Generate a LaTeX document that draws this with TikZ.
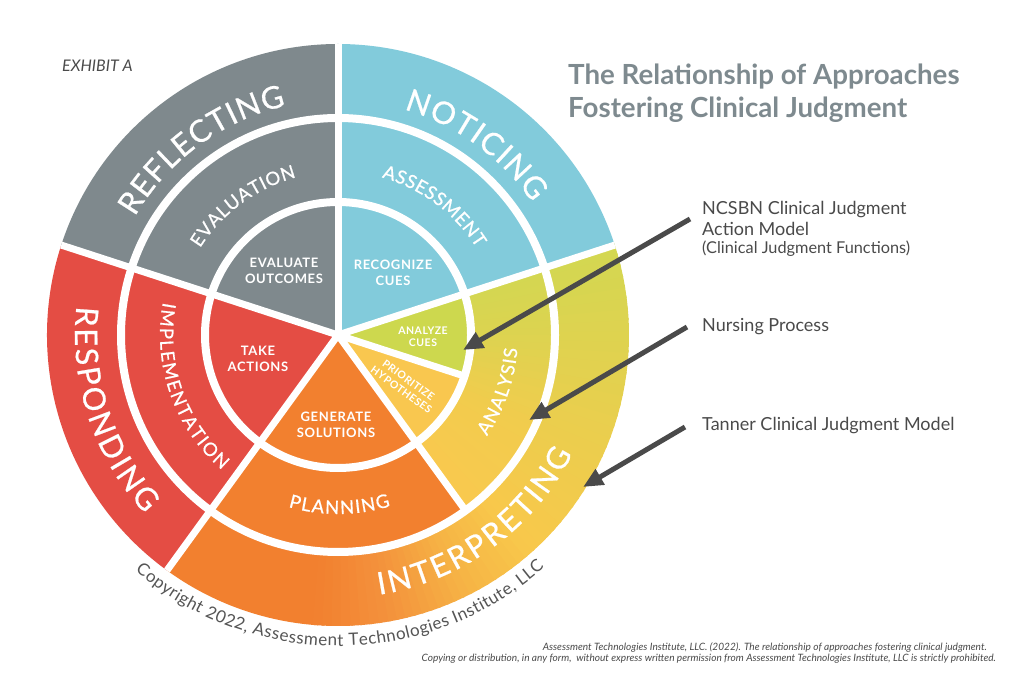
\documentclass[tikz,border=0pt]{standalone}
\usepackage{fontspec}
\setmainfont{Lato}
\newfontfamily\labfont[LetterSpace=5]{Lato}
\newfontfamily\ringfont[FakeBold=0.7]{Lato}
\usetikzlibrary{decorations.text,arrows.meta}
\definecolor{cgray}{HTML}{7F898D}
\definecolor{cblue}{HTML}{82CBDB}
\definecolor{cred}{HTML}{E44D44}
\definecolor{corange}{HTML}{F2802F}
\definecolor{cygreen}{HTML}{D3D751}
\definecolor{cacues}{HTML}{CDD84E}
\definecolor{cprio}{HTML}{F9C74F}
\definecolor{ia}{HTML}{F3913C}
\definecolor{ib}{HTML}{F6B445}
\definecolor{ic}{HTML}{F8C84B}
\definecolor{id}{HTML}{EDCD4D}
\definecolor{aa}{HTML}{F9C94E}
\definecolor{ab}{HTML}{F1CC4D}
\definecolor{ac}{HTML}{DDD350}
\definecolor{ctitle}{HTML}{7E8A8F}
\definecolor{clabel}{HTML}{4A4A4A}
\definecolor{ccopy}{HTML}{555555}
\definecolor{carrow}{HTML}{4A4A4A}

\newcommand\pieW[4]{\fill[#4] (0,0) -- (#2:#1pt) arc[start angle=#2,end angle=#3,radius=#1pt] -- cycle;}
\newcommand\annW[5]{\fill[#5] (#3:#1pt) arc[start angle=#3,end angle=#4,radius=#1pt] -- (#4:#2pt) arc[start angle=#4,end angle=#3,radius=#2pt] -- cycle;}
\newcommand\gradW[7]{\foreach \k in {1,...,#7}{%
  \pgfmathsetmacro\gsa{#3+(#4-#3)*(\k-1)/#7}%
  \pgfmathsetmacro\gea{#3+(#4-#3)*\k/#7+0.5}%
  \pgfmathsetmacro\gpc{100*(\k-0.5)/#7}%
  \annW{#1}{#2}{\gsa}{\gea}{#6!\gpc!#5}}}
\newcommand\arcT[5]{\path[decorate,decoration={text along path,text color=white,text align=fit to path,text={|#4|#5}}] (#2:#1pt) arc[start angle=#2,end angle=#3,radius=#1pt];}

\tikzset{
  sepline/.style={draw=white,line width=7pt},
  ringline/.style={draw=white,line width=8pt},
  inlab/.style={text=white,font=\labfont\bfseries\fontsize{13}{16}\selectfont,align=center,inner sep=0pt},
  smlab/.style={text=white,font=\labfont\bfseries\fontsize{10.5}{12}\selectfont,align=center,inner sep=0pt},
  sidelab/.style={text=clabel,font=\fontsize{18}{18}\selectfont,anchor=base west,inner sep=0pt},
  titlelab/.style={text=ctitle,font=\bfseries\fontsize{27.7}{28}\selectfont,anchor=base west,inner sep=0pt},
  citelab/.style={text=clabel,font=\itshape\fontsize{10.1}{10}\selectfont,anchor=base east,inner sep=0pt},
  ptr/.style={draw=carrow,line width=5pt,-{Triangle[length=20pt,width=17pt]}}
}

\begin{document}
\begin{tikzpicture}[x=1pt,y=1pt]
\useasboundingbox (0,0) rectangle (1024,691);
\fill[white] (0,0) rectangle (1024,691);

\begin{scope}[shift={(338,356)}]
  % base sectors
  \pieW{291}{18}{90}{cblue}
  \pieW{291}{90}{162}{cgray}
  \pieW{291}{162}{234}{cred}
  \pieW{217}{234}{306}{corange}
  % interpreting gradient ring
  \annW{217}{291}{234}{266}{corange}
  \gradW{217}{291}{265}{280}{corange}{ia}{8}
  \gradW{217}{291}{280}{297}{ia}{ib}{10}
  \gradW{217}{291}{297}{312}{ib}{ic}{8}
  \gradW{217}{291}{312}{335}{ic}{id}{12}
  \gradW{217}{291}{335}{378}{id}{cygreen}{20}
  % analysis gradient
  \gradW{133}{217}{306}{335}{aa}{ab}{14}
  \gradW{133}{217}{335}{360}{ab}{ac}{12}
  \gradW{133}{217}{360}{378}{ac}{cygreen}{9}
  % inner small wedges
  \pieW{133}{306}{342}{cprio}
  \pieW{133}{342}{378}{cacues}
  % white separators
  \draw[ringline] (0,0) circle[radius=133pt];
  \draw[ringline] (0,0) circle[radius=217pt];
  \foreach \a in {18,90,162,234} \draw[sepline] (0,0) -- (\a:291pt);
  \draw[sepline] (0,0) -- (306:217pt);
  \draw[sepline] (0,0) -- (342:133pt);

  % curved labels: outer ring
  \arcT{235}{149.8}{102.8}{\ringfont\fontsize{31}{33}\selectfont}{REFLECTING}
  \arcT{235}{73.7}{34.3}{\ringfont\fontsize{31}{33}\selectfont}{NOTICING}
  \arcT{263}{173.7}{222.8}{\ringfont\fontsize{31}{33}\selectfont}{RESPONDING}
  \arcT{263}{279}{333.1}{\ringfont\fontsize{31}{33}\selectfont}{INTERPRETING}
  % middle ring
  \arcT{163}{147.8}{104.8}{\ringfont\fontsize{18.5}{20}\selectfont}{EVALUATION}
  \arcT{163.5}{74.5}{32.1}{\ringfont\fontsize{18.5}{20}\selectfont}{ASSESSMENT}
  \arcT{178}{169.4}{229.3}{\ringfont\fontsize{18.5}{20}\selectfont}{IMPLEMENTATION}
  \arcT{179}{253.9}{287.1}{\ringfont\fontsize{18.5}{20}\selectfont}{PLANNING}
  \arcT{180}{325.8}{355.7}{\ringfont\fontsize{18.5}{20}\selectfont}{ANALYSIS}
  % copyright along the circle
  \path[decorate,decoration={text along path,text color=ccopy,text align=fit to path,
    text={|\fontsize{17}{18}\selectfont|Copyright 2022, Assessment Technologies Institute, LLC}}]
    (229.3:311pt) arc[start angle=229.3,end angle=311.5,radius=311pt];

  % inner labels
  \node[inlab] (eo) at (-54,64) {EVALUATE\\OUTCOMES};
  \node[inlab] (rc) at (55,62) {RECOGNIZE\\CUES};
  \node[inlab] (ta) at (-80,-24) {TAKE\\ACTIONS};
  \node[inlab] (gs) at (-2,-90) {GENERATE\\SOLUTIONS};
  \node[smlab] (ac) at (85,-2) {ANALYZE\\CUES};
  \node[smlab,rotate=-36] (ph) at (67,-50) {PRIORITIZE\\HYPOTHESES};
\end{scope}

% title and exhibit
\node[titlelab] (t1) at (568,606) {The Relationship of Approaches};
\node[titlelab] (t2) at (568,573.5) {Fostering Clinical Judgment};
\node[anchor=base west,inner sep=0pt,text=clabel,font=\itshape\fontsize{16}{16}\selectfont] (exh) at (62,619.3) {EXHIBIT A};

% side labels
\node[sidelab] (l1a) at (702,476) {NCSBN Clinical Judgment};
\node[sidelab] (l1b) at (702,455.5) {Action Model};
\node[sidelab,font=\fontsize{16.3}{16}\selectfont] (l1c) at (702,437.5) {(Clinical Judgment Functions)};
\node[sidelab] (l2) at (702,359.3) {Nursing Process};
\node[sidelab] (l3) at (702,260.3) {Tanner Clinical Judgment Model};

% arrows
\coordinate (a1s) at (690,472);
\coordinate (a1e) at (463,341);
\coordinate (a2s) at (687,364);
\coordinate (a2e) at (529,271);
\coordinate (a3s) at (685,264);
\coordinate (a3e) at (583,204);
\draw[ptr] (a1s) -- (a1e);
\draw[ptr] (a2s) -- (a2e);
\draw[ptr] (a3s) -- (a3e);

% citation
\node[citelab] (c1) at (987,41) {Assessment Technologies Institute, LLC. (2022). The relationship of approaches fostering clinical judgment.};
\node[citelab] (c2) at (996,29.5) {Copying or distribution, in any form, \ without express written permission from Assessment Technologies Institute, LLC is strictly prohibited.};
\end{tikzpicture}
\end{document}
